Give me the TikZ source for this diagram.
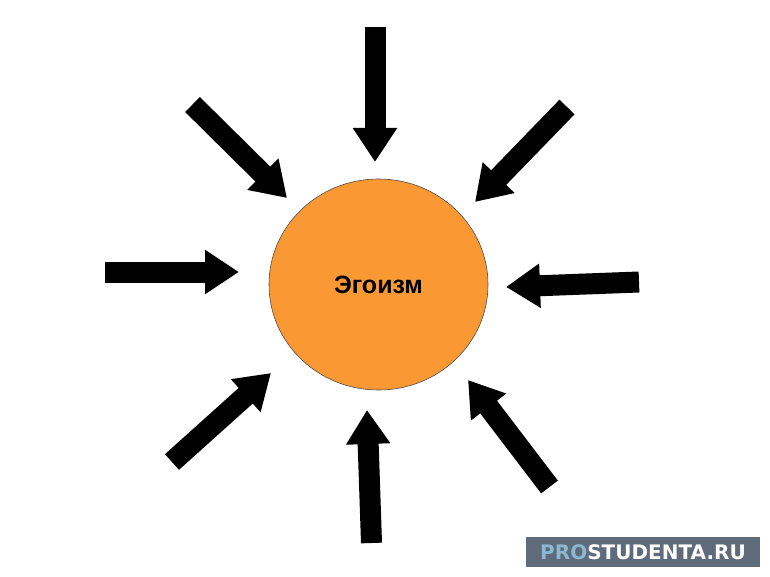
\documentclass[tikz,border=0pt]{standalone}
\usepackage{fontspec}
\setmainfont{Liberation Sans}
\newfontfamily\markfont{DejaVu Sans}
\usepackage{xcolor}
\usetikzlibrary{arrows.meta,shapes.geometric}
\definecolor{egoorange}{RGB}{250,153,52}
\definecolor{markgray}{RGB}{95,107,122}
\definecolor{markblue}{RGB}{139,184,208}

\begin{document}
\begin{tikzpicture}[x=1pt,y=-1pt,
    push/.style={line width=21pt,-{Triangle[length=34pt,width=42pt]}},
    core/.style={ellipse,draw=black!70,line width=0.6pt,fill=egoorange,
        minimum width=219pt,minimum height=211pt,inner sep=0pt,
        font=\bfseries\fontsize{25}{30}\selectfont}]
    \useasboundingbox (0,0) rectangle (770,577);
    \node[core] (ego) at (378.5,284.5) {Эгоизм};
    % tails and tips of the eight arrows
    \coordinate (tN)  at (375,27);    \coordinate (hN)  at (375,162);
    \coordinate (tNE) at (567,107);   \coordinate (hNE) at (475,202);
    \coordinate (tE)  at (639,282);   \coordinate (hE)  at (506,287);
    \coordinate (tSE) at (549.5,487); \coordinate (hSE) at (468,380);
    \coordinate (tS)  at (371.5,543); \coordinate (hS)  at (367,410);
    \coordinate (tSW) at (172,462);   \coordinate (hSW) at (271,373);
    \coordinate (tW)  at (105,272);   \coordinate (hW)  at (239,272);
    \coordinate (tNW) at (192.5,104.5); \coordinate (hNW) at (287,198);
    \foreach \d in {N,NE,E,SE,S,SW,W,NW}
        \draw[push] (t\d) -- (h\d);
    \node[fill=markgray,minimum width=234pt,minimum height=30pt,inner sep=0pt,
        font=\markfont\bfseries\fontsize{20}{24}\selectfont] (mark) at (643,552)
        {\textcolor{markblue}{PRO}\textcolor{white}{STUDENTA.RU}};
\end{tikzpicture}
\end{document}
